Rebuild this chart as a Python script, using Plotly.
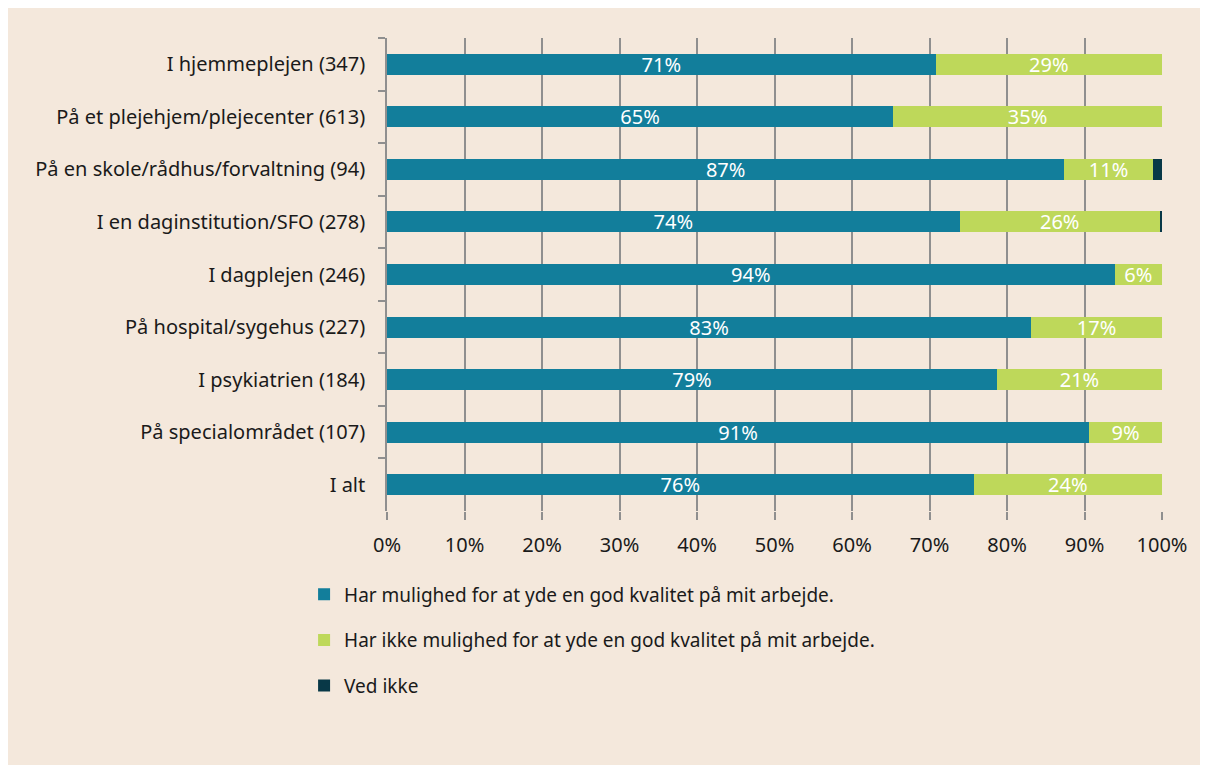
import plotly.graph_objects as go

categories = [
    'I hjemmeplejen (347)',
    'På et plejehjem/plejecenter (613)',
    'På en skole/rådhus/forvaltning (94)',
    'I en daginstitution/SFO (278)',
    'I dagplejen (246)',
    'På hospital/sygehus (227)',
    'I psykiatrien (184)',
    'På specialområdet (107)',
    'I alt',
]
har_mulighed = [70.8, 65.3, 87.4, 73.9, 93.9, 83.1, 78.7, 90.6, 75.7]
har_ikke = [29.2, 34.7, 11.4, 25.8, 6.1, 16.9, 21.3, 9.4, 24.3]
ved_ikke = [0.0, 0.0, 1.2, 0.3, 0.0, 0.0, 0.0, 0.0, 0.0]

series_names = [
    'Har mulighed for at yde en god kvalitet på mit arbejde.',
    'Har ikke mulighed for at yde en god kvalitet på mit arbejde.',
    'Ved ikke',
]
colors = ['#127e9b', '#bed85a', '#083847']
tick_vals = [0, 10, 20, 30, 40, 50, 60, 70, 80, 90, 100]
tick_text = [f'{v}%' for v in tick_vals]

FONT = 'Segoe UI, Noto Sans, sans-serif'
BG = '#f4e8dc'
GRID = '#8f8f8f'

fig = go.Figure()
for i, (name, vals, col) in enumerate(zip(series_names, [har_mulighed, har_ikke, ved_ikke], colors)):
    fig.add_trace(go.Bar(
        y=categories, x=vals, name=name, orientation='h',
        marker=dict(color=col, line=dict(width=0)),
        text=[f'{v:.0f}%' for v in vals] if i < 2 else None,
        textposition='inside', insidetextanchor='middle',
        textfont=dict(color='white', size=20, family=FONT),
        constraintext='none', legendgroup=str(i),
    ))

fig.update_layout(
    width=1216, height=765,
    barmode='stack', bargap=0.6,
    paper_bgcolor=BG, plot_bgcolor=BG,
    margin=dict(l=379, r=62, t=30, b=262),
    font=dict(family=FONT, size=20, color='#1a1a1a'),
    showlegend=True,
    legend=dict(x=-0.107, y=-0.136, xanchor='left', yanchor='top',
                orientation='v', tracegroupgap=18, bgcolor='rgba(0,0,0,0)',
                font=dict(size=19, family=FONT)),
    xaxis=dict(range=[0, 100], tickvals=tick_vals, ticktext=tick_text,
               showgrid=True, gridcolor=GRID, gridwidth=1.5,
               ticks='outside', ticklen=8, tickcolor=GRID, tickwidth=1.5,
               ticklabelstandoff=8, zeroline=False, showline=False),
    yaxis=dict(autorange='reversed', showline=True, linecolor=GRID, linewidth=1.5,
               ticks='outside', tickson='boundaries', ticklen=7, tickcolor=GRID,
               tickwidth=1.5, ticklabelstandoff=16, showgrid=False),
)

fig.write_html('out.html')
